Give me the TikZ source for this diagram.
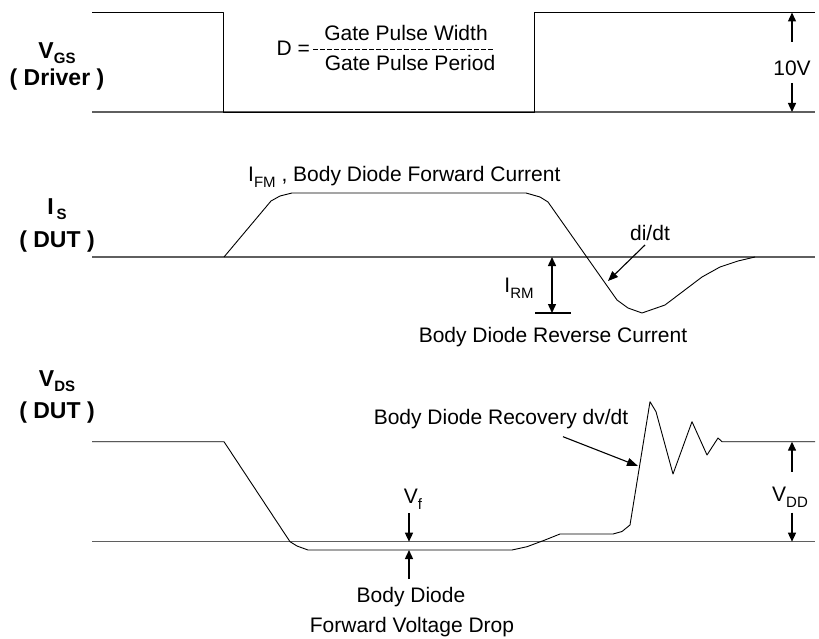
\documentclass[tikz,border=0pt]{standalone}
\usepackage{fontspec}
\setmainfont{Liberation Sans}
\usetikzlibrary{arrows.meta}
\definecolor{basegray}{RGB}{95,95,95}
\newcommand\mysub[1]{\raisebox{-0.3em}{\fontsize{15}{15}\selectfont #1}}
\newcommand\mybsub[1]{\raisebox{-0.22em}{\fontsize{15}{15}\selectfont\bfseries #1}}
\begin{document}
\begin{tikzpicture}[x=1pt,y=-1pt,
  txt/.style={inner sep=0pt, font=\fontsize{21}{24}\selectfont},
  lbl/.style={inner sep=0pt, font=\fontsize{23}{26}\selectfont\bfseries},
  wave/.style={line width=0.9pt, black, line join=round},
  base/.style={line width=1.2pt, basegray},
  arr/.style={line width=1.4pt, -{Triangle[length=9pt,width=8pt]}},
  duty/.style={line width=1pt, dash pattern=on 5pt off 2pt}]
\useasboundingbox (0,0) rectangle (819,639);

% ---------------- V_GS ----------------
\node[lbl] (vgs) at (57,53) {V\mybsub{GS}};
\node[lbl] (drv) at (57,80) {( Driver )};
\draw[base] (92,112) -- (815,112);
\draw[wave] (92,12.5) -- (223,12.5) -- (223,112) -- (534,112) -- (534,12.5) -- (815,12.5);
\node[txt, anchor=east] (deq) at (310,48) {D =};
\coordinate (dl) at (313,49.5);
\coordinate (dr) at (493,49.5);
\draw[duty] (dl) -- (dr);
\node[txt] (gpw) at (406,33) {Gate Pulse Width};
\node[txt] (gpp) at (410,63) {Gate Pulse Period};
\node[txt] (ten) at (792,68) {10V};
\coordinate (tenA) at (792,42);
\coordinate (tenAt) at (792,12.5);
\coordinate (tenB) at (792,83);
\coordinate (tenBt) at (792,112);
\draw[arr] (tenA) -- (tenAt);
\draw[arr] (tenB) -- (tenBt);

% ---------------- I_S ----------------
\node[lbl] (is) at (57,209) {I\hspace{3pt}\mybsub{S}};
\node[lbl] (isd) at (57,242) {( DUT )};
\draw[base] (92,257) -- (815,257);
\draw[wave] (224,257) -- (271,201) -- (280,196) -- (292,193) -- (526,193) -- (540,197) -- (548,202)
  -- (617,300) -- (628,308) -- (642,313) -- (665,305) -- (702,277) -- (720,267) -- (738,261) -- (755,257);
\node[txt, anchor=west] (ifm) at (248,177) {I\mysub{FM} , Body Diode Forward Current};
\node[txt] (irm) at (519,288) {I\mysub{RM}};
\coordinate (irmT) at (552,257);
\coordinate (irmB) at (552,313);
\draw[line width=1.4pt, {Triangle[length=9pt,width=8pt]}-{Triangle[length=9pt,width=8pt]}] (irmT) -- (irmB);
\coordinate (barL) at (535,313);
\coordinate (barR) at (571,313);
\draw[wave, line width=1.1pt] (barL) -- (barR);
\node[txt] (brc) at (553,337) {Body Diode Reverse Current};
\node[txt] (didt) at (650,233) {di/dt};
\coordinate (didtA) at (645,245);
\coordinate (didtB) at (608,281);
\draw[line width=1.1pt, -{Triangle[length=10pt,width=8pt]}] (didtA) -- (didtB);

% ---------------- V_DS ----------------
\node[lbl] (vds) at (57,381) {V\mybsub{DS}};
\node[lbl] (vdsd) at (57,413) {( DUT )};
\draw[base] (92,541.7) -- (815,541.7);
\draw[wave] (92,441.7) -- (224,441.7) -- (290,541.7) -- (297,546) -- (308,550) -- (512,550) -- (527,546.7)
  -- (545,540) -- (560,534) -- (613,534) -- (622,531.5) -- (630,525) -- (650,401.7) -- (656,411.7)
  -- (673,474) -- (692,421.7) -- (707,455) -- (718,438) -- (722,441.7) -- (815,441.7);
\node[txt] (rec) at (501,419) {Body Diode Recovery dv/dt};
\coordinate (recA) at (563,436.7);
\coordinate (recB) at (638,466);
\draw[line width=1.1pt, -{Triangle[length=11pt,width=8pt]}] (recA) -- (recB);
\node[txt] (vdd) at (790,497) {V\mysub{DD}};
\coordinate (vddA) at (792,471.7);
\coordinate (vddAt) at (792,441.7);
\coordinate (vddB) at (792,512.7);
\coordinate (vddBt) at (792,541.7);
\draw[arr] (vddA) -- (vddAt);
\draw[arr] (vddB) -- (vddBt);
\node[txt] (vf) at (413,499) {V\mysub{f}};
\coordinate (vfA) at (409,513);
\coordinate (vfAt) at (409,541.7);
\coordinate (vfB) at (409,579);
\coordinate (vfBt) at (409,550);
\draw[arr] (vfA) -- (vfAt);
\draw[arr] (vfB) -- (vfBt);
\node[txt] (bd) at (411,597) {Body Diode};
\node[txt] (fvd) at (412,627) {Forward Voltage Drop};
\end{tikzpicture}
\end{document}
